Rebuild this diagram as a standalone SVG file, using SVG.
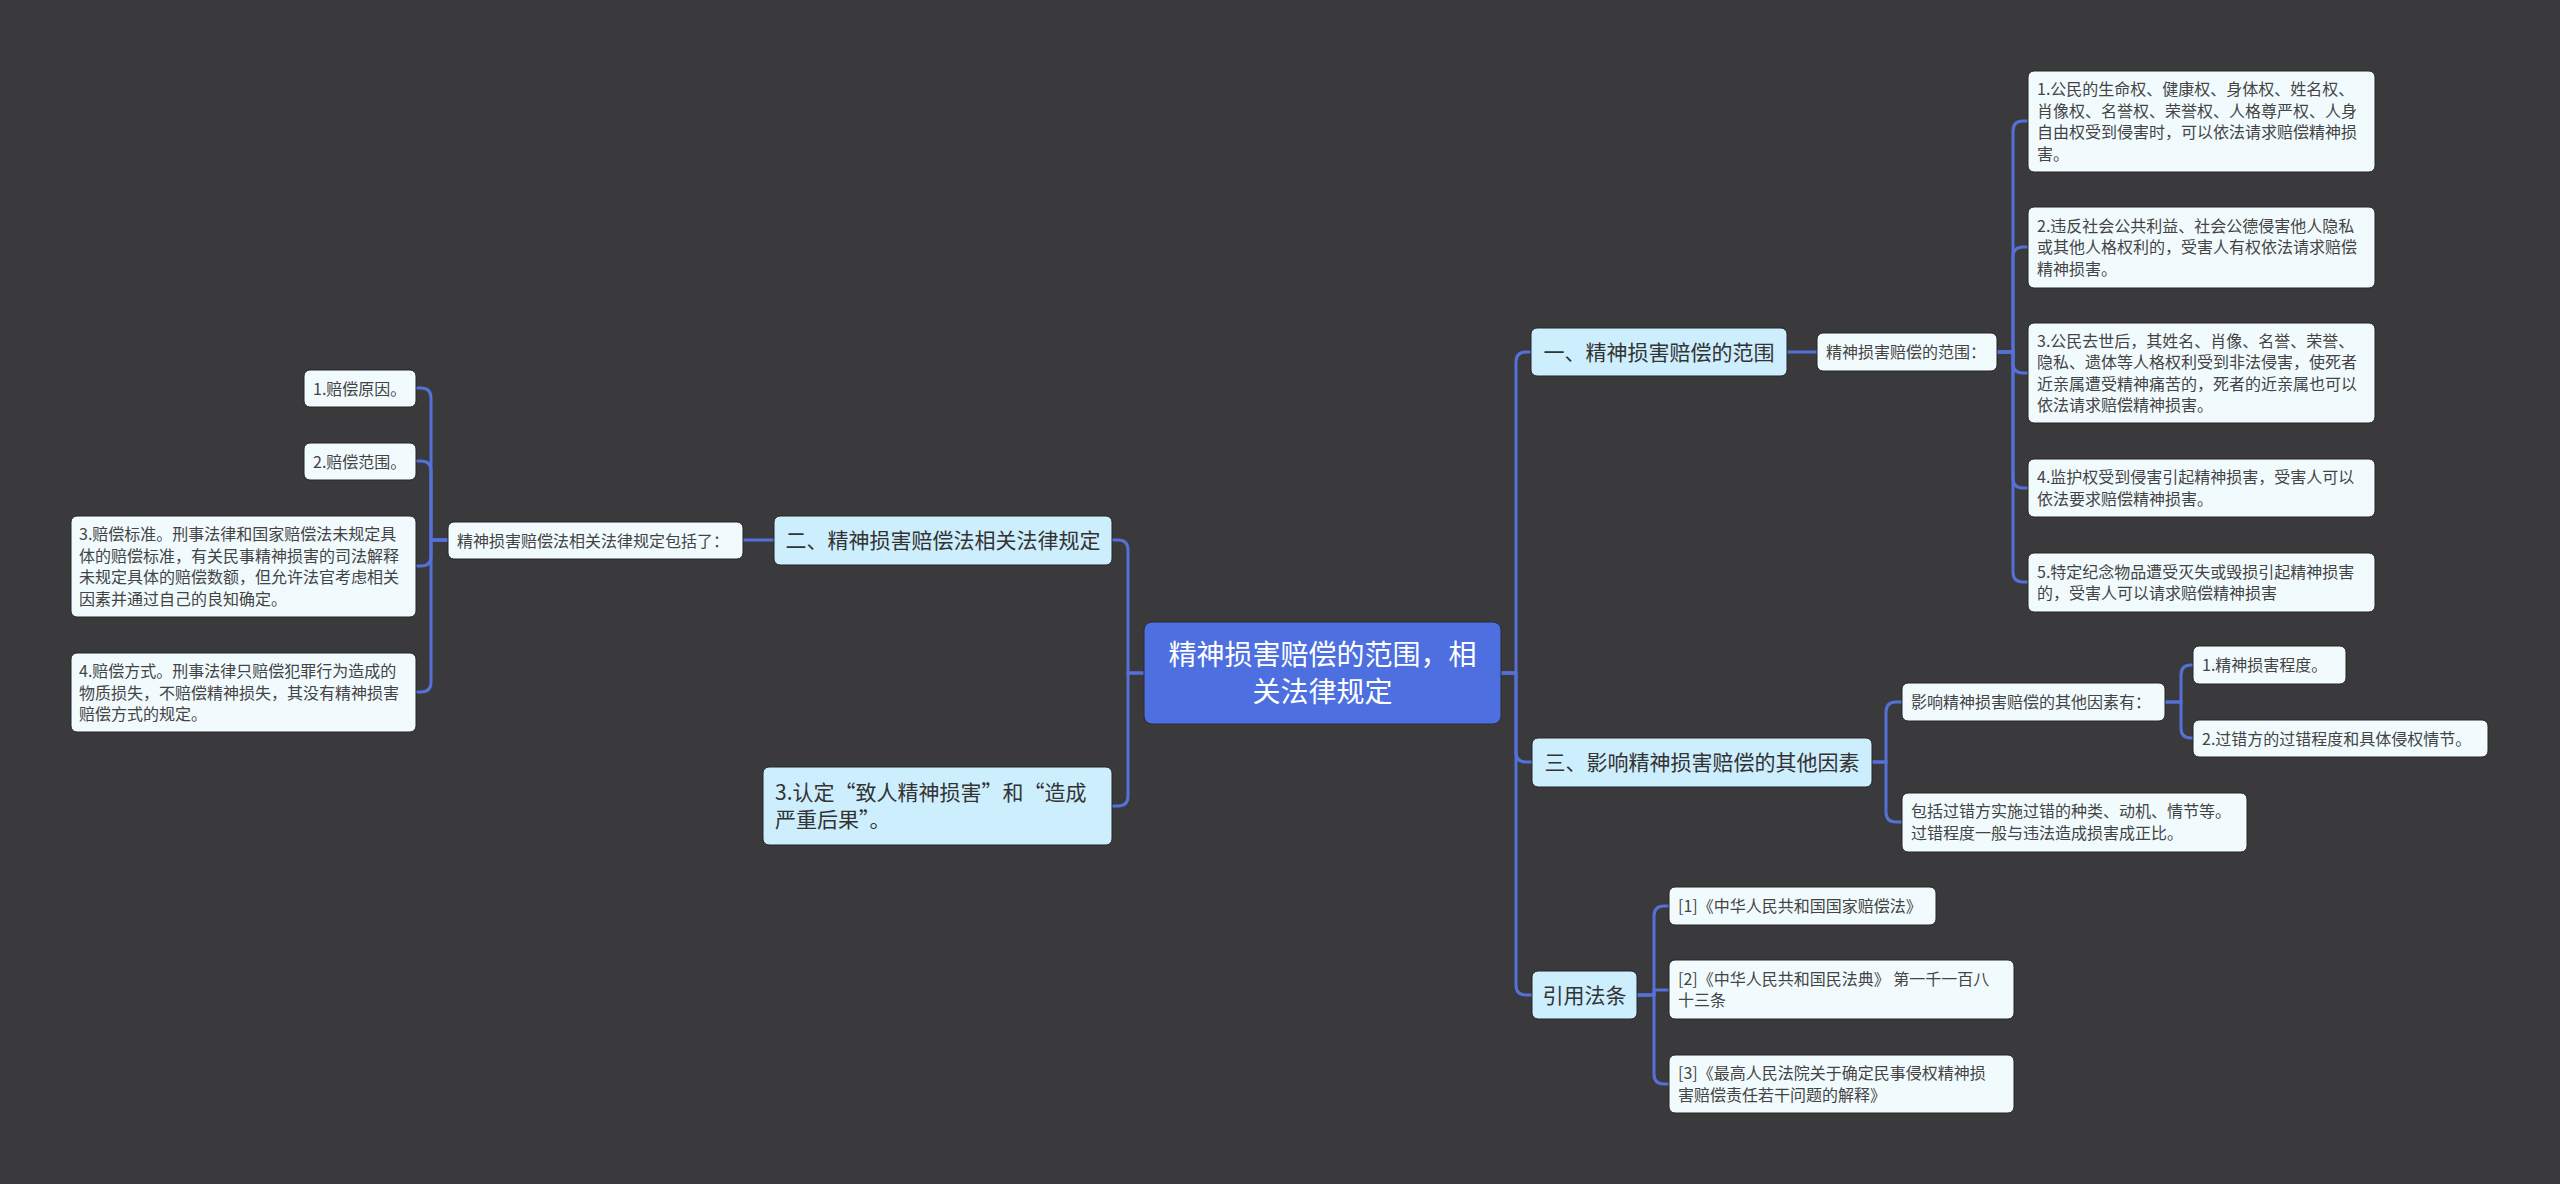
<svg xmlns="http://www.w3.org/2000/svg" width="2560" height="1184" viewBox="0 0 2560 1184">
<style>
text{font-family:"Microsoft YaHei","Noto Sans CJK SC","Noto Sans",sans-serif}
.root rect{fill:#4d6fe0;stroke:#2c2c2e;stroke-width:1}
.root text{fill:#ffffff;font-size:28px;text-anchor:middle}
.l1 rect{fill:#cdeefd;stroke:#252526;stroke-width:1}
.l1 text{fill:#333333;font-size:21px}
.lf rect{fill:#f1fbfe;stroke:#252526;stroke-width:1}
.lf text{fill:#444444;font-size:16px}
.mid{text-anchor:middle}
#connectors path{fill:none;stroke:#5571d8;stroke-width:3;stroke-linecap:round}
</style>
<rect x="0" y="0" width="2560" height="1184" fill="#3a393b"/>
<g id="connectors">
<path d="M1501,673 H1516 V362 Q1516,352 1526,352 H1531"/>
<path d="M1501,673 H1516 V752 Q1516,762 1526,762 H1532"/>
<path d="M1501,673 H1516 V985 Q1516,995 1526,995 H1532"/>
<path d="M1144,673 H1128 V550 Q1128,540 1118,540 H1112"/>
<path d="M1144,673 H1128 V796 Q1128,806 1118,806 H1112"/>
<path d="M1787,352 H1817"/>
<path d="M1997,352 H2013 V131 Q2013,121 2023,121 H2028"/>
<path d="M1997,352 H2013 V257 Q2013,247 2023,247 H2028"/>
<path d="M1997,352 H2013 V363 Q2013,373 2023,373 H2028"/>
<path d="M1997,352 H2013 V478 Q2013,488 2023,488 H2028"/>
<path d="M1997,352 H2013 V572 Q2013,582 2023,582 H2028"/>
<path d="M1872,762 H1886 V712 Q1886,702 1896,702 H1902"/>
<path d="M1872,762 H1886 V812 Q1886,822 1896,822 H1902"/>
<path d="M2165,702 H2181 V675 Q2181,665 2191,665 H2193"/>
<path d="M2165,702 H2181 V728 Q2181,738 2191,738 H2193"/>
<path d="M1637,995 H1654 V916 Q1654,906 1664,906 H1669"/>
<path d="M1637,995 H1654 V990 H1669"/>
<path d="M1637,995 H1654 V1074 Q1654,1084 1664,1084 H1669"/>
<path d="M774,540 H743"/>
<path d="M448,540 H431 V398 Q431,388 421,388 H416"/>
<path d="M448,540 H431 V471 Q431,461 421,461 H416"/>
<path d="M448,540 H431 V556 Q431,566 421,566 H416"/>
<path d="M448,540 H431 V682 Q431,692 421,692 H416"/>
</g>
<g id="root" class="root">
<rect x="1144" y="622" width="357" height="102" rx="8"/>
<text x="1322.5" y="665">精神损害赔偿的范围，相</text>
<text x="1322.5" y="702">关法律规定</text>
</g>
<g id="n-a" class="l1">
<rect x="1531" y="328" width="256" height="48" rx="6"/>
<text class="mid" x="1659" y="359.5">一、精神损害赔偿的范围</text>
</g>
<g id="n-b" class="l1">
<rect x="1532" y="738" width="340" height="49" rx="6"/>
<text class="mid" x="1702" y="770">三、影响精神损害赔偿的其他因素</text>
</g>
<g id="n-c" class="l1">
<rect x="1532" y="971" width="105" height="48" rx="6"/>
<text class="mid" x="1584.5" y="1002.5">引用法条</text>
</g>
<g id="n-d" class="l1">
<rect x="774" y="516" width="338" height="49" rx="6"/>
<text class="mid" x="943" y="548">二、精神损害赔偿法相关法律规定</text>
</g>
<g id="n-e" class="l1">
<rect x="763" y="767" width="349" height="78" rx="6"/>
<text x="775" y="800">3.认定“致人精神损害”和“造成</text>
<text x="775" y="827">严重后果”。</text>
</g>
<g id="n-f" class="lf">
<rect x="1817" y="333" width="180" height="38" rx="6"/>
<text x="1826" y="358">精神损害赔偿的范围：</text>
</g>
<g id="n-l1" class="lf">
<rect x="2028" y="71" width="347" height="101" rx="6"/>
<text x="2037" y="95">1.公民的生命权、健康权、身体权、姓名权、</text>
<text x="2037" y="116.5">肖像权、名誉权、荣誉权、人格尊严权、人身</text>
<text x="2037" y="138">自由权受到侵害时，可以依法请求赔偿精神损</text>
<text x="2037" y="159.5">害。</text>
</g>
<g id="n-l2" class="lf">
<rect x="2028" y="207" width="347" height="81" rx="6"/>
<text x="2037" y="231.5">2.违反社会公共利益、社会公德侵害他人隐私</text>
<text x="2037" y="253">或其他人格权利的，受害人有权依法请求赔偿</text>
<text x="2037" y="274.5">精神损害。</text>
</g>
<g id="n-l3" class="lf">
<rect x="2028" y="323" width="347" height="100" rx="6"/>
<text x="2037" y="346.5">3.公民去世后，其姓名、肖像、名誉、荣誉、</text>
<text x="2037" y="368">隐私、遗体等人格权利受到非法侵害，使死者</text>
<text x="2037" y="389.5">近亲属遭受精神痛苦的，死者的近亲属也可以</text>
<text x="2037" y="411">依法请求赔偿精神损害。</text>
</g>
<g id="n-l4" class="lf">
<rect x="2028" y="459" width="347" height="58" rx="6"/>
<text x="2037" y="483">4.监护权受到侵害引起精神损害，受害人可以</text>
<text x="2037" y="504.5">依法要求赔偿精神损害。</text>
</g>
<g id="n-l5" class="lf">
<rect x="2028" y="553" width="347" height="59" rx="6"/>
<text x="2037" y="577.5">5.特定纪念物品遭受灭失或毁损引起精神损害</text>
<text x="2037" y="599">的，受害人可以请求赔偿精神损害</text>
</g>
<g id="n-h" class="lf">
<rect x="1902" y="683" width="263" height="38" rx="6"/>
<text x="1911" y="708">影响精神损害赔偿的其他因素有：</text>
</g>
<g id="n-i" class="lf">
<rect x="1902" y="793" width="345" height="59" rx="6"/>
<text x="1911" y="817">包括过错方实施过错的种类、动机、情节等。</text>
<text x="1911" y="838.5">过错程度一般与违法造成损害成正比。</text>
</g>
<g id="n-m1" class="lf">
<rect x="2193" y="646" width="153" height="38" rx="6"/>
<text x="2202" y="671">1.精神损害程度。</text>
</g>
<g id="n-m2" class="lf">
<rect x="2193" y="720" width="295" height="37" rx="6"/>
<text x="2202" y="744.5">2.过错方的过错程度和具体侵权情节。</text>
</g>
<g id="n-r1" class="lf">
<rect x="1669" y="887" width="267" height="38" rx="6"/>
<text x="1678" y="912">[1]《中华人民共和国国家赔偿法》</text>
</g>
<g id="n-r2" class="lf">
<rect x="1669" y="960" width="345" height="59" rx="6"/>
<text x="1678" y="984.5">[2]《中华人民共和国民法典》 第一千一百八</text>
<text x="1678" y="1006">十三条</text>
</g>
<g id="n-r3" class="lf">
<rect x="1669" y="1055" width="345" height="58" rx="6"/>
<text x="1678" y="1079">[3]《最高人民法院关于确定民事侵权精神损</text>
<text x="1678" y="1100.5">害赔偿责任若干问题的解释》</text>
</g>
<g id="n-g" class="lf">
<rect x="448" y="522" width="295" height="37" rx="6"/>
<text x="457" y="546.5">精神损害赔偿法相关法律规定包括了：</text>
</g>
<g id="n-k1" class="lf">
<rect x="304" y="370" width="112" height="37" rx="6"/>
<text x="313" y="394.5">1.赔偿原因。</text>
</g>
<g id="n-k2" class="lf">
<rect x="304" y="443" width="112" height="37" rx="6"/>
<text x="313" y="467.5">2.赔偿范围。</text>
</g>
<g id="n-k3" class="lf">
<rect x="71" y="516" width="345" height="101" rx="6"/>
<text x="79" y="540">3.赔偿标准。刑事法律和国家赔偿法未规定具</text>
<text x="79" y="561.5">体的赔偿标准，有关民事精神损害的司法解释</text>
<text x="79" y="583">未规定具体的赔偿数额，但允许法官考虑相关</text>
<text x="79" y="604.5">因素并通过自己的良知确定。</text>
</g>
<g id="n-k4" class="lf">
<rect x="71" y="653" width="345" height="79" rx="6"/>
<text x="79" y="677">4.赔偿方式。刑事法律只赔偿犯罪行为造成的</text>
<text x="79" y="698.5">物质损失，不赔偿精神损失，其没有精神损害</text>
<text x="79" y="720">赔偿方式的规定。</text>
</g>
</svg>
